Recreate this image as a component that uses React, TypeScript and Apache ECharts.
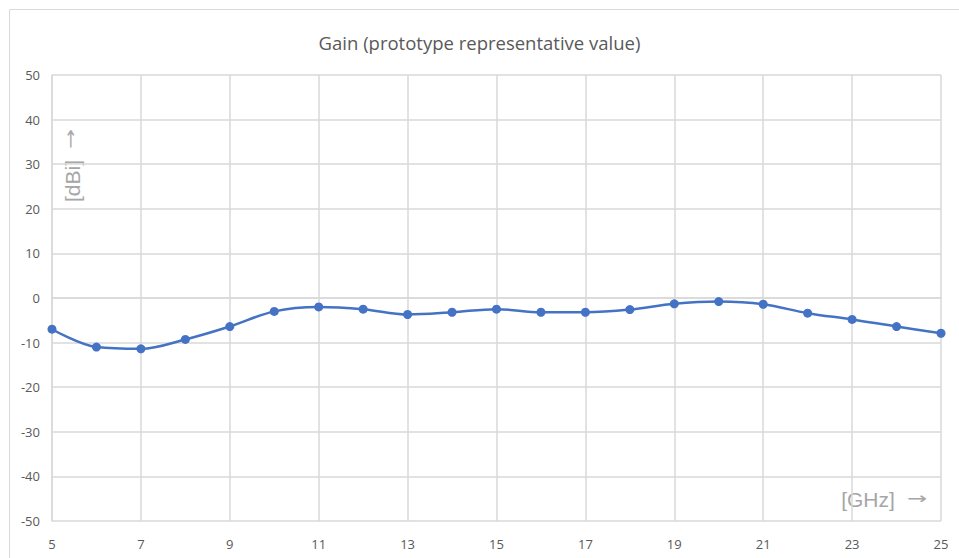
import React, { useEffect, useRef } from "react";
import * as echarts from "echarts";

const categories = ["5","6","7","8","9","10","11","12","13","14","15","16","17","18","19","20","21","22","23","24","25"];
const gainValues = [-7.0, -11.0, -11.4, -9.3, -6.4, -3.0, -2.0, -2.5, -3.7, -3.2, -2.5, -3.2, -3.2, -2.6, -1.3, -0.8, -1.4, -3.4, -4.8, -6.4, -7.9];
const titleText = "Gain (prototype representative value)";
const yNameText = "[dBi]";
const xNameText = "[GHz]";
const arrowText = "→";

export default function App() {
  const ref = useRef<HTMLDivElement>(null);
  useEffect(() => {
    if (!ref.current) return;
    const chart = echarts.init(ref.current, null, { renderer: "svg" });
    const font = "'Open Sans', 'Noto Sans', sans-serif";
    const nameFont = "'Liberation Sans', Arial, sans-serif";
    chart.setOption({
      animation: false,
      backgroundColor: "#ffffff",
      title: {
        text: titleText,
        left: "center",
        top: 28,
        textStyle: { fontFamily: font, fontSize: 18.5, fontWeight: "normal", color: "#595959" },
      },
      grid: { left: 52, right: 18, top: 75, bottom: 37, containLabel: false },
      xAxis: {
        type: "category",
        data: categories,
        boundaryGap: false,
        axisLine: { show: true, lineStyle: { color: "#d9d9d9", width: 1.5 } },
        axisTick: { show: false },
        axisLabel: { interval: 1, color: "#595959", fontFamily: font, fontSize: 13, margin: 16 },
        splitLine: { show: true, interval: 1, lineStyle: { color: "#d9d9d9", width: 1.5 } },
      },
      yAxis: {
        type: "value",
        min: -50,
        max: 50,
        interval: 10,
        axisLine: { show: true, lineStyle: { color: "#d9d9d9", width: 1.5 } },
        axisTick: { show: false },
        axisLabel: { color: "#595959", fontFamily: font, fontSize: 13, margin: 12 },
        splitLine: { show: true, lineStyle: { color: "#d9d9d9", width: 1.5 } },
      },
      series: [
        {
          type: "line",
          data: gainValues,
          smooth: 0.35,
          symbol: "circle",
          symbolSize: 9,
          lineStyle: { color: "#4472C4", width: 2.5 },
          itemStyle: { color: "#4472C4" },
        },
      ],
      graphic: [
        {
          type: "rect",
          shape: { x: 9.5, y: 9.5, width: 980, height: 580 },
          style: { fill: "none", stroke: "#d9d9d9", lineWidth: 1 },
          silent: true,
        },
        {
          type: "text",
          x: 72,
          y: 181,
          rotation: Math.PI / 2,
          style: {
            text: yNameText,
            fontFamily: nameFont,
            fontSize: 21,
            fill: "#a6a6a6",
            align: "center",
            verticalAlign: "middle",
          },
        },
        {
          type: "text",
          x: 71,
          y: 139,
          rotation: Math.PI / 2,
          scaleX: 1.5,
          style: {
            text: arrowText,
            fontFamily: "'DejaVu Sans', sans-serif",
            fontSize: 16,
            fill: "#a6a6a6",
            align: "center",
            verticalAlign: "middle",
          },
        },
        {
          type: "text",
          x: 868,
          y: 499,
          style: {
            text: xNameText,
            fontFamily: nameFont,
            fontSize: 21,
            fill: "#a6a6a6",
            align: "center",
            verticalAlign: "middle",
          },
        },
        {
          type: "text",
          x: 917,
          y: 499,
          scaleX: 1.5,
          style: {
            text: arrowText,
            fontFamily: "'DejaVu Sans', sans-serif",
            fontSize: 16,
            fill: "#a6a6a6",
            align: "center",
            verticalAlign: "middle",
          },
        },
      ],
    });
    return () => chart.dispose();
  }, []);
  return <div ref={ref} style={{ position: "absolute", left: 0, top: 0, width: 959, height: 558 }} />;
}
